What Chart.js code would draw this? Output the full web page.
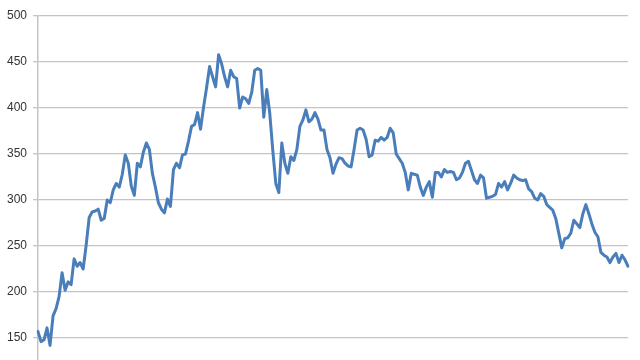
<!DOCTYPE html>
<html>
<head>
<meta charset="utf-8">
<script src="https://cdn.jsdelivr.net/npm/chart.js@4"></script>
<style>
html,body{margin:0;padding:0;background:#fff;overflow:hidden;width:640px;height:360px;}
#wrap{position:absolute;left:0;top:0;width:640px;height:400px;}
</style>
</head>
<body>
<div id="wrap"><canvas id="c" width="640" height="400"></canvas></div>
<script>
const seriesValues = [
157,146,148,161,142,174,182,195,221,202,211,208,236,228,232,225,251,281,287,288,
290,278,280,300,297,311,318,314,328,349,340,315,305,340,336,352,362,355,329,314,
297,290,286,301,293,333,340,335,349,350,364,380,382,395,377,401,422,445,434,423,
458,448,434,423,441,434,432,400,412,410,405,417,441,443,441,390,420,394,354,318,
308,362,340,329,347,343,355,380,387,398,385,388,395,388,376,376,355,346,329,339,
346,345,340,337,336,355,376,378,376,366,347,349,365,364,368,365,368,378,373,350,
345,340,330,311,329,328,327,314,305,314,320,303,330,330,325,333,330,331,330,322,
324,330,340,342,332,322,318,327,324,302,303,304,306,318,314,320,311,318,327,324,
322,321,322,312,309,302,300,307,304,295,292,289,280,264,248,258,259,264,278,274,
270,285,295,285,274,265,260,243,240,238,232,238,242,232,240,235,228
];
const categories = seriesValues.map((_, i) => i + 1);
const yTicks = [100,150,200,250,300,350,400,450,500];

new Chart(document.getElementById('c'), {
  type: 'line',
  data: {
    labels: categories,
    datasets: [{
      data: seriesValues,
      borderColor: '#4a7ebb',
      borderWidth: 3,
      borderJoinStyle: 'round',
      borderCapStyle: 'round',
      pointRadius: 0,
      tension: 0,
      fill: false
    }]
  },
  options: {
    responsive: false,
    animation: false,
    layout: { padding: { top: 16, right: 12, bottom: 16, left: 0 } },
    plugins: { legend: { display: false }, tooltip: { enabled: false } },
    scales: {
      x: { display: false },
      y: {
        min: yTicks[0],
        max: yTicks[yTicks.length - 1],
        afterFit: s => { s.width = 38; },
        afterBuildTicks: s => { s.ticks = yTicks.map(v => ({ value: v })); },
        ticks: {
          padding: 6,
          color: '#333333',
          font: { family: 'Liberation Sans', size: 12 }
        },
        grid: { color: '#c4c4c4', lineWidth: 1.3, tickLength: 5, drawTicks: true },
        border: { display: true, color: '#c4c4c4', width: 1.5 }
      }
    }
  }
});
</script>
</body>
</html>
